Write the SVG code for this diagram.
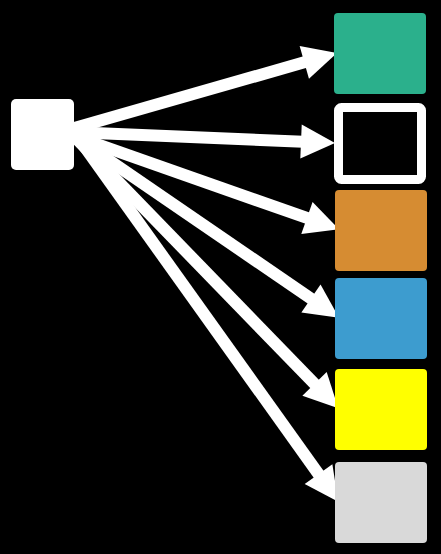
<svg xmlns="http://www.w3.org/2000/svg" width="441" height="554" viewBox="0 0 441 554">
  <style>
    .edge { stroke: #ffffff; stroke-width: 12; fill: none; }
    .head { fill: #ffffff; }
  </style>
  <rect x="0" y="0" width="441" height="554" fill="#000000"/>
  <g id="connectors">
    <line class="edge" x1="70" y1="129.2" x2="306" y2="61.8"/>
    <polygon class="head" points="337,53 308.97,78.68 299.65,45.98"/>
    <line class="edge" x1="70" y1="132" x2="303" y2="141.7"/>
    <polygon class="head" points="335,143 300.33,158.57 301.73,124.61"/>
    <line class="edge" x1="70" y1="134.6" x2="309" y2="218.7"/>
    <polygon class="head" points="339,229.3 301.29,234.04 312.57,201.98"/>
    <line class="edge" x1="70" y1="133.5" x2="312.5" y2="299.6"/>
    <polygon class="head" points="339,317.7 301.35,312.52 320.55,284.46"/>
    <line class="edge" x1="70" y1="132" x2="316" y2="385.4"/>
    <polygon class="head" points="338.3,408.3 302.38,395.87 326.68,372.11"/>
    <line class="edge" x1="71" y1="127.8" x2="319.7" y2="475.7"/>
    <polygon class="head" points="338.3,501.7 304.70,483.93 332.36,464.15"/>
  </g>
  <g id="source">
    <rect x="11" y="99" width="63" height="71" rx="5" fill="#ffffff"/>
  </g>
  <g id="target-green">
    <rect x="334" y="13" width="92" height="81" rx="4" fill="#2bb08c"/>
  </g>
  <g id="target-outline">
    <rect x="338.5" y="107.5" width="83" height="72" rx="3" fill="#000000" stroke="#ffffff" stroke-width="9"/>
  </g>
  <g id="target-orange">
    <rect x="335" y="190" width="92" height="81" rx="4" fill="#d68c32"/>
  </g>
  <g id="target-blue">
    <rect x="335" y="278" width="92" height="81" rx="4" fill="#3d9ccf"/>
  </g>
  <g id="target-yellow">
    <rect x="335" y="369" width="92" height="81" rx="4" fill="#ffff00"/>
  </g>
  <g id="target-gray">
    <rect x="335" y="462" width="92" height="81" rx="4" fill="#d9d9d9"/>
  </g>
</svg>
